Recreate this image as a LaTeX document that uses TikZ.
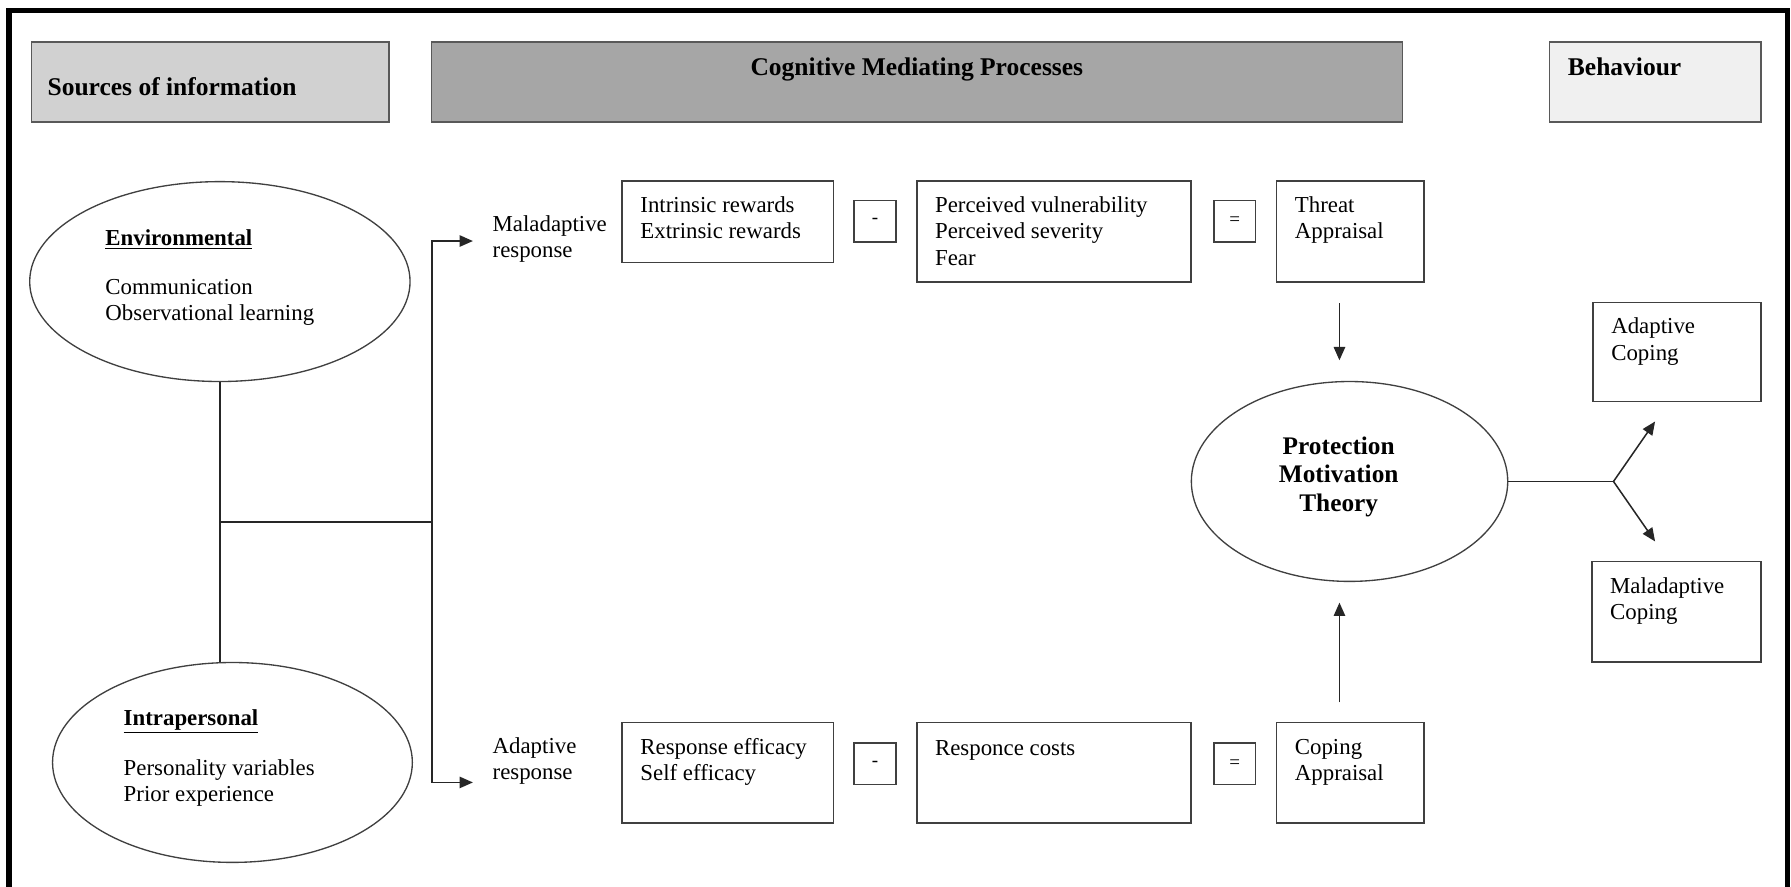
\documentclass[tikz,border=0pt]{standalone}
\usepackage{fontspec}
\setmainfont{Liberation Serif}
\usetikzlibrary{arrows.meta,positioning,calc,shapes.geometric}

% text block with fixed size, first baseline #1 below the top
\newcommand{\cell}[4][16.5pt]{\parbox[t][#3][t]{#2}{\rule{0pt}{#1}#4}}

\begin{document}
\begin{tikzpicture}[x=0.6pt,y=-0.6pt,font=\fontsize{12}{13.8}\selectfont,>={Triangle[length=7pt,width=6pt]}]
\tikzstyle{hdr}=[draw=black!65,line width=0.8pt,anchor=north west,inner xsep=8.4pt,inner ysep=0pt,font=\fontsize{13.4}{16}\selectfont\bfseries]
\tikzstyle{pbox}=[draw=black!75,line width=0.8pt,anchor=north west,inner xsep=9.6pt,inner ysep=0pt]
\tikzstyle{opbox}=[draw=black!75,line width=0.8pt,anchor=north west,minimum width=22pt,minimum height=21.6pt,inner sep=0pt,font=\fontsize{10}{12}\selectfont]
\tikzstyle{oval}=[draw=black!75,line width=0.7pt,ellipse,inner sep=0pt]
\tikzstyle{txt}=[anchor=base west,inner sep=0pt]
\tikzstyle{link}=[draw=black!85,line width=0.8pt]

\useasboundingbox (0,0) rectangle (1568,776);
\clip (0,0) rectangle (1568,776);
\draw[line width=2.8pt] (8,800) -- (8,9) -- (1565,9) -- (1565,800);

% column headers
\node[hdr,fill=black!18] (src) at (27,36) {\cell[27.9pt]{171pt}{42pt}{Sources of information}};
\node[hdr,fill=black!35] (cog) at (377,36) {\cell[17.5pt]{493.2pt}{42pt}{\centering Cognitive Mediating Processes}};
\node[hdr,fill=black!6,inner xsep=9.6pt] (beh) at (1356,36) {\cell[17.8pt]{91.8pt}{42pt}{Behaviour}};

% sources
\node[oval,minimum width=199.8pt,minimum height=105pt] (env) at (192.5,246.5) {};
\node[txt] (envtxt) at (92,215) {\parbox[t]{120pt}{\underline{\textbf{Environmental}}\\[11.8pt]Communication\\Observational learning}};
\node[oval,minimum width=189pt,minimum height=105pt] (intra) at (203.5,667.5) {};
\node[txt] (intratxt) at (108,635) {\parbox[t]{110pt}{\underline{\textbf{Intrapersonal}}\\[12.6pt]Personality variables\\Prior experience}};

\node[txt] (malr) at (431,202.5) {\parbox[t]{70pt}{Maladaptive\\response}};
\node[txt] (adr) at (431,659.5) {\parbox[t]{70pt}{Adaptive\\response}};

% threat appraisal row
\node[pbox] (rew) at (544,158) {\cell{91.8pt}{42.6pt}{Intrinsic rewards\\Extrinsic rewards}};
\node[opbox] (min1) at (747,175) {-};
\node[pbox] (vul) at (802,158) {\cell{124.8pt}{52.8pt}{Perceived vulnerability\\Perceived severity\\Fear}};
\node[opbox] (eq1) at (1062,175) {=};
\node[pbox] (thr) at (1117,158) {\cell{58.2pt}{52.8pt}{Threat\\Appraisal}};

% coping appraisal row
\node[pbox] (eff) at (544,632) {\cell{91.8pt}{52.8pt}{Response efficacy\\Self efficacy}};
\node[opbox] (min2) at (747,650) {-};
\node[pbox] (cst) at (802,632) {\cell[17.5pt]{124.8pt}{52.8pt}{Responce costs}};
\node[opbox] (eq2) at (1062,650) {=};
\node[pbox] (cop) at (1117,632) {\cell{58.2pt}{52.8pt}{Coping\\Appraisal}};

% protection motivation
\node[oval,minimum width=166.2pt,minimum height=105pt] (pmt) at (1181.5,421.5) {};
\node[anchor=base,inner sep=0pt,font=\fontsize{13.3}{15}\selectfont\bfseries] (pmttxt) at (1172,397.5) {\parbox[t]{90pt}{\centering Protection\\Motivation\\Theory}};

% behaviour
\node[pbox] (adc) at (1394,264) {\cell{69pt}{52.2pt}{Adaptive\\Coping}};
\node[pbox] (mac) at (1393,491) {\cell{69.6pt}{52.8pt}{Maladaptive\\Coping}};

% connectors
\coordinate (j1) at (192.5,457);
\coordinate (j2) at (378,457);
\coordinate (malin) at (414,211);
\coordinate (adin) at (414,685);
\draw[link] (env.south) -- (env.south |- intra.north);
\draw[link] (j1) -- (j2);
\draw[link,->] (j2) |- (malin);
\draw[link,->] (j2) |- (adin);

\draw[link,->,shorten <=10.8pt,shorten >=10.8pt] ([xshift=-5.7pt]thr.south) -- ([xshift=-5.7pt]thr.south |- pmt.north);
\draw[link,->,shorten <=10.2pt,shorten >=10.8pt] ([xshift=-5.7pt]cop.north) -- ([xshift=-5.7pt]cop.north |- pmt.south);

\coordinate (fork) at ([xshift=55.2pt]pmt.east);
\coordinate (uptip) at (1449,369);
\coordinate (dntip) at (1449,474);
\draw[link] (pmt.east) -- (fork);
\draw[link,->] (fork) -- (uptip);
\draw[link,->] (fork) -- (dntip);
\end{tikzpicture}
\end{document}
